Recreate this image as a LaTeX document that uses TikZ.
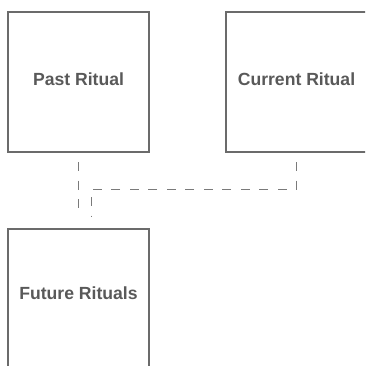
\documentclass[tikz,border=0pt]{standalone}
\usepackage{fontspec}
\setmainfont{Liberation Sans}
\usetikzlibrary{positioning}
\definecolor{boxgray}{HTML}{6B6B6B}
\definecolor{textgray}{HTML}{595959}
\definecolor{linkgray}{HTML}{7A7A7A}

\begin{document}
\begin{tikzpicture}[x=1pt,y=-1pt,
  ritual/.style={draw=boxgray,line width=1.3pt,minimum width=141pt,minimum height=140pt,inner sep=0pt,outer sep=0pt},
  title/.style={font=\bfseries\fontsize{17.6}{20}\selectfont,text=textgray},
  link/.style={draw=linkgray,line width=1pt,dash pattern=on 9pt off 9.5pt}]
\useasboundingbox (0,0) rectangle (365,366);
\clip (0,0) rectangle (365,366);
\node[ritual,label={[title,yshift=3pt]center:Past Ritual}] (past) at (78.5,82) {};
\node[ritual,right=77pt of past,label={[title,yshift=3pt]center:Current Ritual}] (current) {};
\node[ritual,below=77pt of past.south,anchor=north,minimum height=160pt,label={[title,yshift=16pt]center:Future Rituals}] (future) {};
% dashed links
\draw[link] ([yshift=-10pt]past.south) -- ([yshift=12pt]future.north);
\draw[link] ([yshift=-10pt]current.south) -- ++(0,27) -| ([xshift=12.5pt,yshift=12pt]future.north);
\end{tikzpicture}
\end{document}
